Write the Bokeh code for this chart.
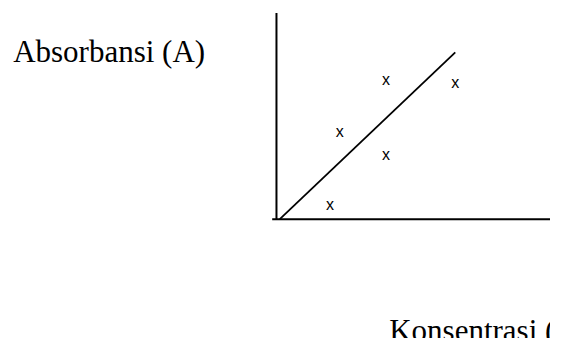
from bokeh.plotting import figure
from bokeh.models import Label
from bokeh.core.properties import value
from bokeh.embed import file_html
from bokeh.resources import INLINE

# Data (arbitrary units: concentration vs absorbance)
conc_points = [2.75, 3.25, 5.63, 5.63, 9.2]
abs_points = [1.0, 4.8, 3.6, 7.5, 7.35]
fit_conc = [0.17, 9.2]
fit_abs = [0.0, 8.73]
marker_text = ["x", "x", "x", "x", "x"]
y_label = "Absorbansi (A)"
x_label = "Konsentrasi (C)"
y_axis_top = 10.8
x_axis_start = -0.22
x_axis_end = 15.0

p = figure(width=550, height=338, output_backend="svg", toolbar_location=None,
           x_range=(-14.2, 14.1), y_range=(-6.25, 11.45),
           min_border=0, min_border_left=0, min_border_right=0,
           min_border_top=0, min_border_bottom=0,
           x_axis_location=None, y_axis_location=None)
p.grid.visible = False
p.outline_line_color = None
p.background_fill_color = "white"
p.border_fill_color = "white"

# axes lines
p.segment(x0=[0, x_axis_start], y0=[0, 0], x1=[0, x_axis_end], y1=[y_axis_top, 0],
          line_color="black", line_width=2)

# fitted line
p.line(fit_conc, fit_abs, line_color="black", line_width=1.8)

# data points drawn as "x" characters
p.text(x=conc_points, y=abs_points, text=marker_text,
       text_font=value("Liberation Sans"), text_font_size="16px",
       text_align="center", text_baseline="alphabetic", y_offset=4,
       text_color="black")

p.add_layout(Label(x=-13.55, y=8.8, text=y_label, text_font="Liberation Serif",
                   text_font_size="31px", text_color="black",
                   text_baseline="alphabetic", text_align="left"))
p.add_layout(Label(x=5.8, y=-5.83, text=x_label, text_font="Liberation Serif",
                   text_font_size="31px", text_color="black",
                   text_baseline="alphabetic", text_align="left"))

open("out.html", "w").write(file_html(p, INLINE))
